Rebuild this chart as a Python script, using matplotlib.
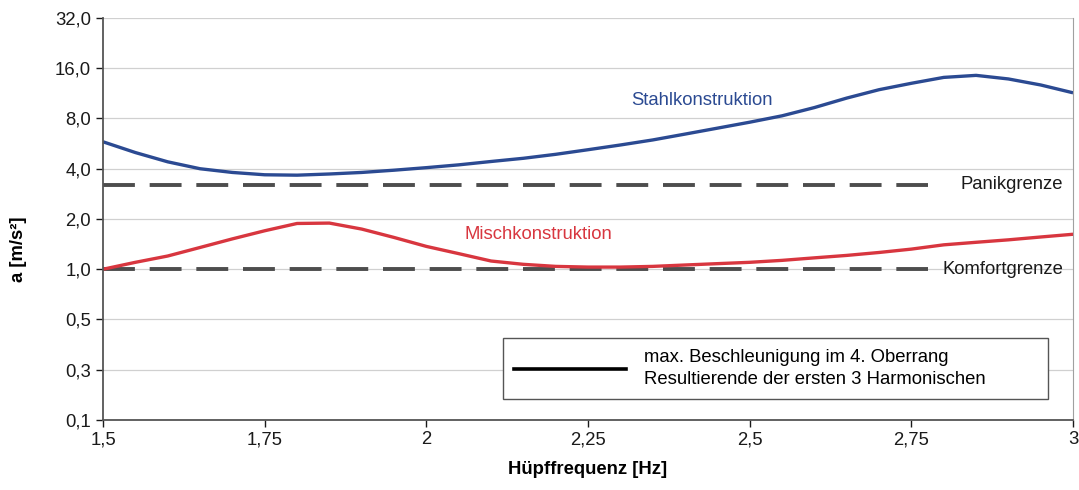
import matplotlib
matplotlib.use("Agg")
import matplotlib.pyplot as plt
from matplotlib.lines import Line2D

plt.rcParams['font.family'] = ['Liberation Sans', 'DejaVu Sans']

# Hüpffrequenz [Hz]
freq = [1.50, 1.55, 1.60, 1.65, 1.70, 1.75, 1.80, 1.85, 1.90, 1.95,
        2.00, 2.05, 2.10, 2.15, 2.20, 2.25, 2.30, 2.35, 2.40, 2.45,
        2.50, 2.55, 2.60, 2.65, 2.70, 2.75, 2.80, 2.85, 2.90, 2.95, 3.00]

# a [m/s²]
stahl = [5.8, 5.0, 4.4, 4.0, 3.8, 3.68, 3.66, 3.72, 3.8, 3.92,
         4.06, 4.22, 4.42, 4.62, 4.88, 5.2, 5.55, 5.95, 6.45, 7.0,
         7.6, 8.3, 9.3, 10.6, 11.9, 13.0, 14.1, 14.5, 13.8, 12.7, 11.4]
misch = [1.0, 1.1, 1.2, 1.35, 1.52, 1.7, 1.88, 1.89, 1.74, 1.55,
         1.37, 1.24, 1.12, 1.07, 1.04, 1.03, 1.03, 1.04, 1.06, 1.08,
         1.1, 1.13, 1.17, 1.21, 1.26, 1.32, 1.40, 1.45, 1.50, 1.56, 1.62]

limit_x = [1.5, 2.775]
panik = [3.2, 3.2]
komfort = [1.0, 1.0]

yticks = [0.125, 0.25, 0.5, 1, 2, 4, 8, 16, 32]
ytick_labels = ["0,1", "0,3", "0,5", "1,0", "2,0", "4,0", "8,0", "16,0", "32,0"]
xticks = [1.5, 1.75, 2.0, 2.25, 2.5, 2.75, 3.0]
xtick_labels = ["1,5", "1,75", "2", "2,25", "2,5", "2,75", "3"]

FS = 13.3

fig = plt.figure(figsize=(10.79, 4.9), dpi=100)
ax = fig.add_axes([0.0955, 0.1429, 0.899, 0.8204])

ax.set_yscale('log', base=2)
ax.set_ylim(0.125, 32)
ax.set_xlim(1.5, 3.0)

ax.grid(True, axis='y', color='#d0d0d0', linewidth=0.9)
ax.set_axisbelow(True)

dash_style = dict(color='#4d4d4d', linewidth=2.8, dashes=(8.2, 3.8))
ax.plot(limit_x, panik, **dash_style)
ax.plot(limit_x, komfort, **dash_style)

ax.plot(freq, stahl, color='#2b4a92', linewidth=2.4, solid_capstyle='butt')
ax.plot(freq, misch, color='#d8363f', linewidth=2.4, solid_capstyle='butt')

ax.text(2.3175, 9.6, "Stahlkonstruktion", color='#2b4a92', fontsize=FS)
ax.text(2.0595, 1.52, "Mischkonstruktion", color='#d8363f', fontsize=FS)
ax.text(2.8253, 3.2, "Panikgrenze", color='#1a1a1a', fontsize=FS, va='center')
ax.text(2.7974, 1.0, "Komfortgrenze", color='#1a1a1a', fontsize=FS, va='center')

ax.set_yticks(yticks)
ax.set_yticklabels(ytick_labels)
ax.minorticks_off()
ax.set_xticks(xticks)
ax.set_xticklabels(xtick_labels)
ax.tick_params(axis='both', labelsize=FS, colors='#1a1a1a', length=5, width=1, direction='out')
ax.tick_params(axis='x', pad=3)

for side in ['left', 'bottom']:
    ax.spines[side].set_color('#555555')
    ax.spines[side].set_linewidth(1.3)
ax.spines['right'].set_color('#a0a0a0')
ax.spines['top'].set_visible(False)

ax.set_xlabel("Hüpffrequenz [Hz]", fontsize=FS, fontweight='bold', labelpad=9)
ax.set_ylabel("a [m/s²]", fontsize=FS, fontweight='bold')
ax.yaxis.set_label_coords(-0.0784, 0.425)

handle = Line2D([], [], color='black', linewidth=2.6)
leg = ax.legend([handle], ["max. Beschleunigung im 4. Oberrang\nResultierende der ersten 3 Harmonischen"],
                loc='lower left', bbox_to_anchor=(0.412, 0.052, 0.562, 0.15), mode='expand',
                fontsize=FS, handlelength=6.05, handletextpad=1.0, borderpad=0.6, borderaxespad=0,
                fancybox=False, framealpha=1, edgecolor='#555555')
leg.get_frame().set_linewidth(1.0)
leg.get_texts()[0].set_linespacing(1.35)

fig.savefig("out.png", dpi=100)
